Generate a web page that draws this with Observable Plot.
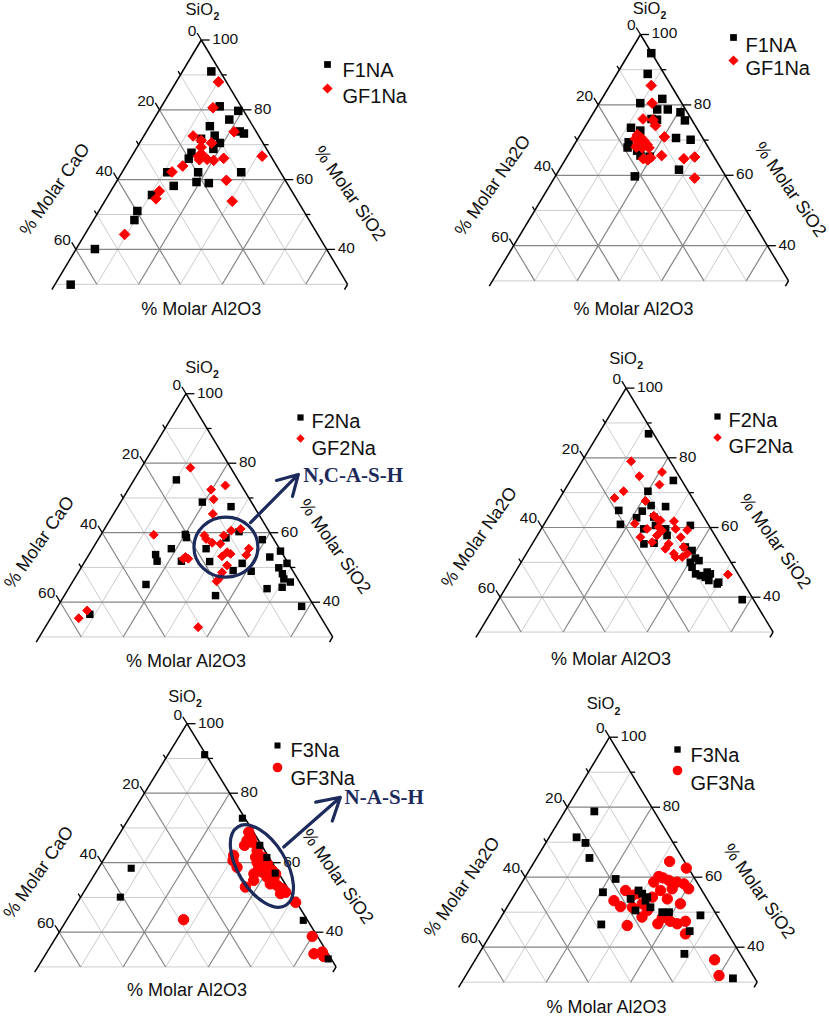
<!DOCTYPE html>
<html><head><meta charset="utf-8">
<script src="https://cdn.jsdelivr.net/npm/d3@7"></script>
<script src="https://cdn.jsdelivr.net/npm/@observablehq/plot@0.6"></script>
<style>
html,body{margin:0;padding:0;background:#fff;}
#wrap{position:relative;width:829px;height:1016px;overflow:hidden;}
.panel{position:absolute;}
</style></head><body><div id="wrap"></div>
<script>
// ---------- data: each point is [SiO2, CaO or Na2O, Al2O3] in % molar ----------
const F1NA_CaO = [[91.0,2.1,6.9],[81.0,5.1,13.9],[79.7,1.3,19.0],[77.2,4.7,18.1],[75.3,10.3,14.4],[73.8,3.9,22.3],[73.2,3.2,23.6],[71.7,14.2,14.1],[72.6,10.5,16.9],[70.5,10.3,19.2],[68.8,12.7,18.5],[67.7,18.5,13.8],[66.0,20.0,14.0],[62.1,27.1,10.8],[62.1,19.7,18.2],[62.1,9.4,28.5],[59.3,21.5,19.2],[59.0,18.7,22.3],[58.2,27.5,14.3],[55.6,34.0,10.4],[51.0,39.8,9.2],[48.4,41.8,9.8],[40.1,55.4,4.5],[29.9,66.3,3.8]];
const GF1Na_CaO = [[88.0,1.9,10.1],[80.6,6.9,12.5],[73.7,5.3,21.0],[72.5,15.7,11.8],[71.2,14.4,14.4],[70.5,12.3,17.2],[69.3,15.4,15.3],[67.4,16.3,16.3],[65.7,17.6,16.7],[65.8,15.7,18.5],[65.5,14.3,20.2],[66.1,11.6,22.3],[66.6,17.4,16.0],[63.9,22.5,13.6],[62.2,25.9,11.9],[66.7,2.1,31.2],[59.8,14.1,26.1],[56.7,31.7,11.6],[54.5,33.6,11.9],[53.8,15.7,30.5],[44.3,46.2,9.5]];
const F1NA_Na2O = [[94.7,0.1,5.2],[88.8,3.9,7.3],[81.7,4.0,14.3],[80.5,9.8,9.7],[78.7,6.7,14.6],[78.7,4.2,17.1],[77.9,1.6,20.5],[75.6,1.7,22.7],[76.0,9.4,14.6],[75.8,8.2,16.0],[75.0,9.1,15.9],[73.5,15.5,11.0],[72.7,13.7,13.6],[70.6,6.3,23.1],[70.1,3.1,26.8],[69.4,18.1,12.5],[67.9,19.1,13.0],[67.0,17.3,15.7],[65.6,17.2,17.2],[65.3,15.2,19.5],[61.6,10.1,28.3],[59.7,21.5,18.8]];
const GF1Na_Na2O = [[85.5,4.7,9.8],[80.5,7.0,12.5],[76.0,11.4,12.6],[75.7,9.2,15.1],[74.1,9.4,16.5],[70.9,8.9,20.2],[70.4,16.0,13.6],[70.8,14.6,14.6],[69.9,14.3,15.8],[68.7,14.1,17.2],[68.7,16.4,14.9],[67.8,15.7,16.5],[67.8,14.1,18.1],[69.9,15.4,14.7],[69.0,15.0,16.0],[71.5,15.0,13.5],[68.0,17.0,15.0],[65.6,12.2,22.2],[64.7,17.0,18.3],[64.4,16.1,19.5],[65.0,15.1,19.9],[64.7,7.4,27.9],[65.2,4.6,30.2],[59.2,7.6,33.2]];
const F2Na_CaO = [[75.2,14.7,10.1],[68.8,11.7,19.5],[67.5,5.5,27.0],[59.5,20.4,20.1],[58.6,20.6,20.8],[60.3,7.2,32.5],[58.5,11.2,30.3],[58.0,2.8,39.2],[55.4,25.8,18.8],[53.7,30.4,15.9],[51.8,31.0,17.2],[51.8,25.2,23.0],[55.4,17.5,27.1],[51.7,18.5,29.8],[49.1,14.2,36.7],[48.9,10.0,41.1],[51.2,11.0,37.8],[43.9,8.7,47.4],[54.7,0.1,45.2],[53.0,3.5,43.5],[51.2,0.3,48.5],[49.9,2.9,47.2],[48.2,2.9,48.9],[46.7,3.3,50.0],[45.8,2.2,52.0],[44.3,4.9,50.8],[45.1,37.0,17.9],[41.9,22.0,36.1],[38.8,3.0,58.2],[36.5,54.7,8.8]];
const GF2Na_CaO = [[78.7,9.6,11.7],[72.4,7.8,19.8],[73.6,3.8,22.6],[69.6,8.6,21.8],[65.4,10.9,23.7],[59.4,28.0,12.6],[59.2,16.0,24.8],[58.2,16.1,25.7],[57.1,15.2,27.7],[56.8,13.4,29.8],[59.2,11.4,29.4],[60.6,8.9,30.5],[61.1,6.4,32.5],[54.4,13.0,32.6],[53.9,12.4,33.7],[53.2,14.8,32.0],[55.4,7.3,37.3],[53.6,8.8,37.6],[50.6,14.9,34.5],[53.0,23.6,23.4],[52.5,23.2,24.3],[52.5,24.4,23.1],[48.6,17.1,34.3],[46.7,18.8,34.5],[46.0,19.7,34.3],[32.8,30.7,36.5],[37.6,54.8,7.6],[35.4,57.9,6.7]];
const F2Na_Na2O = [[86.9,1.2,11.9],[73.5,2.0,24.5],[70.4,9.6,20.0],[66.3,10.9,22.8],[64.9,19.3,15.8],[64.7,13.8,21.5],[66.0,7.6,26.4],[62.8,16.1,21.1],[63.0,11.9,25.1],[60.9,20.9,18.2],[59.6,16.0,24.4],[60.6,12.7,26.7],[59.6,10.8,29.6],[57.7,11.4,30.9],[60.6,4.4,35.0],[55.5,15.6,28.9],[55.3,18.1,26.6],[54.4,8.7,36.9],[53.4,7.6,39.0],[51.2,7.9,40.9],[50.0,9.7,40.3],[50.5,7.4,42.1],[47.2,7.1,45.7],[48.6,10.0,41.4],[46.7,10.1,43.2],[46.2,9.2,44.6],[45.7,8.3,46.0],[46.7,6.6,46.7],[44.8,7.9,47.3],[44.3,5.8,49.9],[43.8,6.4,49.8],[39.3,2.7,58.0]];
const GF2Na_Na2O = [[79.0,9.3,11.7],[75.9,3.5,20.6],[74.7,9.5,15.8],[72.3,5.9,21.8],[70.4,15.4,14.2],[68.5,18.5,13.0],[67.6,11.6,20.8],[63.4,11.7,24.9],[62.5,11.4,26.1],[62.0,10.8,27.2],[61.1,17.4,21.5],[59.6,15.2,25.2],[60.1,12.2,27.7],[59.1,11.9,29.0],[61.8,7.7,30.5],[59.6,8.4,32.0],[59.3,5.8,34.9],[57.7,13.8,28.5],[57.2,18.0,24.8],[55.8,15.9,28.3],[55.3,12.2,32.5],[57.2,8.4,34.4],[53.9,13.7,32.4],[52.5,12.4,35.1],[54.4,9.1,36.5],[51.5,12.5,36.0],[52.5,9.2,38.3],[51.5,10.9,37.6],[46.5,2.5,51.0]];
const F3Na_CaO = [[91.1,0.3,8.6],[72.8,0.6,26.6],[65.0,0.4,34.6],[61.5,0.5,38.0],[57.0,0.8,42.2],[58.4,33.9,7.7],[50.1,40.6,9.3],[43.4,1.0,55.6],[32.3,0.7,67.0]];
const GF3Na_CaO = [[68.8,1.1,30.1],[66.4,2.7,30.9],[65.0,4.0,31.0],[65.9,1.8,32.3],[63.5,1.8,34.7],[61.6,3.1,35.3],[61.6,1.5,36.9],[59.7,1.3,39.0],[60.1,1.9,38.0],[58.7,3.8,37.5],[58.3,2.4,39.3],[56.8,5.9,37.3],[57.3,3.7,39.0],[55.8,3.3,40.9],[55.4,1.9,42.7],[53.9,3.5,42.6],[53.4,2.1,44.5],[52.5,1.4,46.1],[51.5,1.1,47.4],[51.1,2.5,46.4],[62.1,8.0,29.9],[60.6,8.9,30.5],[58.7,8.9,32.4],[53.0,9.8,37.2],[67.3,1.4,31.3],[60.1,3.5,36.4],[48.6,0.2,51.2],[43.6,29.0,27.4],[38.8,1.2,60.0],[33.8,3.3,62.9],[34.3,1.1,64.6],[33.0,1.4,65.6],[57.8,1.1,41.1],[56.8,0.8,42.4],[54.9,6.9,38.2]];
const F3Na_Na2O = [[78.8,14.2,7.0],[71.4,22.1,6.5],[69.8,20.8,9.4],[65.5,22.0,12.5],[59.5,18.8,21.7],[55.7,23.7,20.6],[46.5,28.7,24.8],[56.2,15.0,28.8],[53.8,18.1,28.1],[55.3,14.6,30.1],[53.3,14.8,31.9],[50.5,18.6,30.9],[51.4,14.6,34.0],[50.0,12.5,37.5],[50.0,10.9,39.1],[49.1,3.9,47.0],[44.6,8.7,46.7],[38.1,13.2,48.7],[31.1,5.2,63.7],[54.3,13.9,31.8]];
const GF3Na_Na2O = [[64.5,3.5,32.0],[62.6,0.5,36.9],[60.2,8.2,31.6],[58.6,10.2,31.2],[59.1,6.4,34.5],[58.6,4.7,36.7],[58.1,3.3,38.6],[56.7,2.9,40.4],[56.7,6.8,36.5],[56.2,9.8,34.0],[56.2,18.1,25.7],[54.8,17.2,28.0],[54.3,12.7,33.0],[53.8,9.4,36.8],[52.4,7.0,40.6],[53.3,22.3,24.4],[51.6,21.6,26.8],[51.4,18.9,29.7],[52.4,16.0,31.6],[50.5,15.8,33.7],[48.6,18.0,33.4],[46.2,22.7,31.1],[46.7,15.2,38.1],[48.4,13.3,38.3],[47.4,11.9,40.7],[46.7,10.6,42.7],[47.4,8.3,44.3],[43.8,10.1,46.1],[59.8,7.4,32.8],[55.3,15.8,28.9],[36.4,6.9,56.7],[31.9,8.1,60.0]];

// axis ticks / labels
const gridValues = [10, 20, 30, 40, 50, 60, 70, 80, 90];
const leftTickLabels = [0, 20, 40, 60];
const rightTickLabels = [100, 80, 60, 40];
const SMIN = 30; // lower SiO2 limit of the zoomed triangle

// annotations: centre given as [SiO2, CaO, Al2O3]
const annNCASH = {center: [55.7, 12.5, 31.8], label: "N,C-A-S-H"};
const annNASH  = {center: [58.9, 2.85, 38.25], label: "N-A-S-H"};

// ---------- helpers ----------
const T = (s, a) => ({x: a + s / 2, y: s});         // ternary -> cartesian (data units)
const P = d => T(d[0], d[2]);
const seg = (p, q, major) => ({x1: p.x, y1: p.y, x2: q.x, y2: q.y, major});

const FONT = "Liberation Sans, Arial, Helvetica, sans-serif";
const INK = "#111";
const NAVY = "#1c2a5c";

const panels = [
  {left:0, top:0, apexX:200.8, apexY:39.5, kx:4.18, ky:3.49, leftTitle:"% Molar CaO",
   black:F1NA_CaO, red:GF1Na_CaO, names:["F1NA","GF1Na"], redSym:"diamond2", rB:4.8, rR:4.8,
   tdx:-2, tdy:-30, bdx:0, bdy:25,
   leg:{sx:327, sy:64, tx:342, ty1:62, ty2:88, ry:88, rB:3.8, rR:4.6}},
  {left:414, top:0, apexX:640, apexY:34, kx:4.23, ky:3.52, leftTitle:"% Molar Na2O",
   black:F1NA_Na2O, red:GF1Na_Na2O, names:["F1NA","GF1Na"], redSym:"diamond2", rB:4.8, rR:4.8,
   tdx:6, tdy:-26, bdx:-7, bdy:28,
   leg:{sx:319, sy:37, tx:331, ty1:37, ty2:60, ry:60, rB:3.8, rR:4.6}},
  {left:0, top:339, apexX:185.5, apexY:393.2, kx:4.19, ky:3.475, leftTitle:"% Molar CaO",
   black:F2Na_CaO, red:GF2Na_CaO, names:["F2Na","GF2Na"], redSym:"diamond2", rB:4.2, rR:4.0,
   tdx:13, tdy:-26, bdx:0, bdy:24,
   leg:{sx:300, sy:78, tx:311, ty1:74, ty2:101, ry:99, rB:3.5, rR:3.8},
   ann:{def:annNCASH, rx:32, ry:30, rot:0, from:[62.9,65.4], to:[76.75,76.8], text:[76.5,78.0]}},
  {left:414, top:339, apexX:625.6, apexY:387.6, kx:4.2, ky:3.485, leftTitle:"% Molar Na2O",
   black:F2Na_Na2O, red:GF2Na_Na2O, names:["F2Na","GF2Na"], redSym:"diamond2", rB:4.3, rR:4.0,
   tdx:-3, tdy:-29, bdx:-15, bdy:27,
   leg:{sx:303, sy:77, tx:314, ty1:73, ty2:99, ry:98, rB:3.5, rR:3.8}},
  {left:0, top:678, apexX:186.5, apexY:723.2, kx:4.26, ky:3.475, leftTitle:"% Molar CaO",
   black:F3Na_CaO, red:GF3Na_CaO, names:["F3Na","GF3Na"], redSym:"circle", rB:4.0, rR:5.2, redFirst:true,
   tdx:-5, tdy:-27, bdx:0, bdy:23,
   leg:{sx:277, sy:67, tx:290, ty1:64, ty2:92, ry:89, rB:3.4, rR:4.8},
   ann:{def:annNASH, rx:46, ry:24, rot:58.5, from:[64.5,72.7], to:[78.85,86.0], text:[78.8,87.0]}},
  {left:414, top:678, apexX:609, apexY:736.7, kx:4.22, ky:3.5, leftTitle:"% Molar Na2O",
   black:F3Na_Na2O, red:GF3Na_Na2O, names:["F3Na","GF3Na"], redSym:"circle", rB:4.4, rR:5.2, redFirst:true,
   tdx:-9, tdy:-33, bdx:-3, bdy:25,
   leg:{sx:263, sy:71, tx:276, ty1:69, ty2:97, ry:92, rB:3.6, rR:4.8}}
];

function ellipseMark(center, rx, ry, rot) {
  return (...args) => {
    const scales = args.find(a => a && typeof a.x === "function" && typeof a.y === "function");
    const p = P(center);
    const cx = scales.x(p.x), cy = scales.y(p.y);
    return d3.create("svg:ellipse")
      .attr("cx", cx).attr("cy", cy).attr("rx", rx).attr("ry", ry)
      .attr("transform", `rotate(${rot} ${cx} ${cy})`)
      .attr("fill", "none").attr("stroke", NAVY).attr("stroke-width", 3.2)
      .node();
  };
}

function buildPanel(p) {
  const W = p.left === 0 ? 414 : 415, H = p.top === 678 ? 338 : 339;
  const xr = [p.apexX - 35 * p.kx - p.left, p.apexX + 35 * p.kx - p.left];
  const yr = [p.apexY + (100 - SMIN) * p.ky - p.top, p.apexY - p.top];

  const grid = [];
  for (const v of gridValues) {
    const major = v % 20 === 0;
    if (v >= SMIN) grid.push(seg(T(v, 0), T(v, 100 - v), major));              // const SiO2
    if (v < 100 - SMIN) {
      grid.push(seg(T(100 - v, 0), T(SMIN, 100 - SMIN - v), major));           // const CaO
      grid.push(seg(T(100 - v, v), T(SMIN, v), major));                         // const Al2O3
    }
  }
  const edges = [
    seg(T(100, 0), T(SMIN - 1.5, 0)),
    seg(T(100, 0), T(SMIN, 100 - SMIN)),
    seg(T(SMIN, 100 - SMIN), T(SMIN - 1.5, 100 - SMIN))
  ];
  const ticks = [];
  for (let v = 0; v <= 60; v += 10) {
    const major = v % 20 === 0, L = major ? 2.0 : 1.1;
    const r = T(100 - v, v);                // right edge, SiO2 = 100 - v
    ticks.push(seg(r, {x: r.x + L, y: r.y}));
    const l = T(100 - v, 0);                // left edge, CaO = v
    ticks.push(seg(l, {x: l.x - L / 2, y: l.y + L}));
  }

  const dotsB = Plot.dot(p.black, {x: d => P(d).x, y: d => P(d).y, symbol: "square", r: p.rB, fill: "#000"});
  const dotsR = Plot.dot(p.red, {x: d => P(d).x, y: d => P(d).y, symbol: p.redSym, r: p.rR, fill: "#ff0000",
    stroke: "#ff0000", strokeWidth: 1, strokeLinejoin: "round"});

  const lg = p.leg;
  const marks = [
    Plot.link(grid.filter(d => !d.major), {x1: "x1", y1: "y1", x2: "x2", y2: "y2", stroke: "#cccccc", strokeWidth: 1}),
    Plot.link(grid.filter(d => d.major), {x1: "x1", y1: "y1", x2: "x2", y2: "y2", stroke: "#858585", strokeWidth: 1.2}),
    Plot.link(edges, {x1: "x1", y1: "y1", x2: "x2", y2: "y2", stroke: "#000", strokeWidth: 1.5}),
    Plot.link(ticks, {x1: "x1", y1: "y1", x2: "x2", y2: "y2", stroke: "#000", strokeWidth: 1.3}),
    Plot.text(leftTickLabels, {x: v => T(100 - v, 0).x, y: v => 100 - v, text: v => String(v),
      textAnchor: "end", dx: -5, dy: -9, fontSize: 15.5, fontFamily: FONT, fill: INK}),
    Plot.text(rightTickLabels, {x: v => T(v, 100 - v).x, y: v => v, text: v => String(v),
      textAnchor: "start", dx: 11, dy: -1, fontSize: 15.5, fontFamily: FONT, fill: INK}),
    // titles
    Plot.text(["SiO"], {x: T(100, 0).x, y: 100, text: d => d, dx: p.tdx, dy: p.tdy, fontSize: 16.5, fontFamily: FONT, fill: INK}),
    Plot.text(["2"], {x: T(100, 0).x, y: 100, text: d => d, dx: p.tdx + 17, dy: p.tdy + 7, fontSize: 10.5, fontWeight: "bold", fontFamily: FONT, fill: INK}),
    Plot.text([p.leftTitle], {x: T(50, 0).x, y: 50, text: d => d, dx: -42, dy: -25, rotate: -55, fontSize: 18, fontFamily: FONT, fill: INK}),
    Plot.text(["% Molar SiO2"], {x: T(50, 50).x, y: 50, text: d => d, dx: 44, dy: -21, rotate: 55, fontSize: 18, fontFamily: FONT, fill: INK}),
    Plot.text(["% Molar Al2O3"], {x: T(SMIN, (100 - SMIN) / 2).x, y: SMIN, text: d => d, dx: p.bdx, dy: p.bdy, fontSize: 18, fontFamily: FONT, fill: INK}),
    ...(p.redFirst ? [dotsR, dotsB] : [dotsB, dotsR]),
    // legend
    Plot.dot([p.names[0]], {frameAnchor: "top-left", dx: lg.sx, dy: lg.sy, symbol: "square", r: lg.rB, fill: "#000"}),
    Plot.dot([p.names[1]], {frameAnchor: "top-left", dx: lg.sx, dy: lg.ry, symbol: p.redSym, r: lg.rR, fill: "#ff0000"}),
    Plot.text([p.names[0]], {frameAnchor: "top-left", dx: lg.tx, dy: lg.ty1, text: d => d, textAnchor: "start", fontSize: 20, fontFamily: FONT, fill: INK}),
    Plot.text([p.names[1]], {frameAnchor: "top-left", dx: lg.tx, dy: lg.ty2, text: d => d, textAnchor: "start", fontSize: 20, fontFamily: FONT, fill: INK})
  ];
  if (p.ann) {
    const a = p.ann;
    marks.push(ellipseMark(a.def.center, a.rx, a.ry, a.rot));
    marks.push(Plot.arrow([a], {x1: d => d.from[1], y1: d => d.from[0], x2: d => d.to[1], y2: d => d.to[0],
      stroke: NAVY, strokeWidth: 3.2, headLength: 13}));
    marks.push(Plot.text([a.def.label], {x: a.text[1], y: a.text[0], text: d => d, textAnchor: "start",
      fontSize: 21, fontWeight: "bold", fontFamily: "Liberation Serif, Times New Roman, serif", fill: NAVY,
      style: "letter-spacing:1.2px"}));
  }

  const svg = Plot.plot({
    width: W, height: H, margin: 0,
    x: {domain: [SMIN / 2, 100 - SMIN / 2], range: xr, axis: null},
    y: {domain: [SMIN, 100], range: yr, axis: null},
    style: {background: "transparent", overflow: "visible", fontFamily: FONT},
    marks
  });
  const div = document.createElement("div");
  div.className = "panel";
  div.style.left = p.left + "px";
  div.style.top = p.top + "px";
  div.appendChild(svg);
  document.getElementById("wrap").appendChild(div);
}

panels.forEach(buildPanel);
</script>
</body></html>
